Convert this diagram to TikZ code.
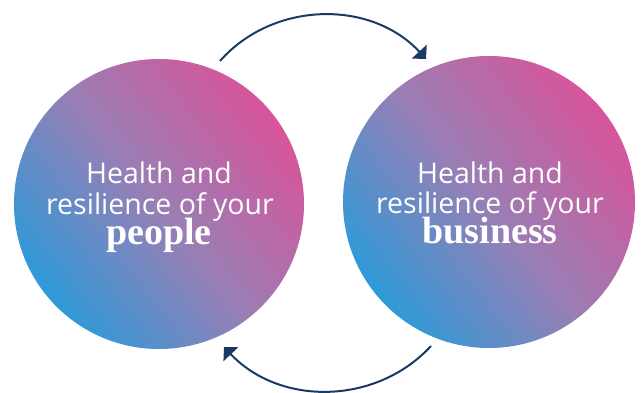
\documentclass[tikz,border=0pt]{standalone}
\usepackage{fontspec}
\setmainfont{Open Sans}
\newfontfamily\lserif{Liberation Serif}
\usetikzlibrary{arrows.meta}
\definecolor{cblue}{HTML}{2E9AD8}
\definecolor{cpink}{HTML}{D8549A}
\definecolor{cmid}{HTML}{9A7EB4}
\definecolor{navy}{HTML}{1A3A66}
\tikzset{
  bubble/.style={circle, draw=none, inner sep=0pt, minimum size=#1,
    bottom color=cblue, top color=cpink, middle color=cmid, shading angle=-52},
  sanstext/.style={text=white, inner sep=0pt, anchor=base,
    font=\fontsize{28.5}{31}\selectfont},
  boldtext/.style={text=white, inner sep=0pt, anchor=base,
    font=\lserif\bfseries\fontsize{38}{40}\selectfont},
  cyclearrow/.style={draw=navy, line width=2pt,
    -{Triangle[length=10pt,width=20pt]}}
}
\begin{document}
\begin{tikzpicture}[x=1pt,y=1pt]
\useasboundingbox (0,0) rectangle (641,392);
\node[bubble=290pt] (L) at (159,188) {};
\node[bubble=292pt] (R) at (489,190) {};
\node[sanstext] (L1) at (159,209) {Health and};
\node[sanstext] (L2) at (160,178) {resilience of your};
\node[boldtext] (L3) at (159,148) {people};
\node[sanstext] (R1) at (490,209) {Health and};
\node[sanstext] (R2) at (490,179) {resilience of your};
\node[boldtext] (R3) at (490,149) {business};
\coordinate (a1) at (220,331);
\coordinate (a2) at (426,333);
\coordinate (b1) at (431,46);
\coordinate (b2) at (224,45);
\draw[cyclearrow] (a1) to[bend left=48] (a2);
\draw[cyclearrow] (b1) to[bend left=47] (b2);
\end{tikzpicture}
\end{document}
